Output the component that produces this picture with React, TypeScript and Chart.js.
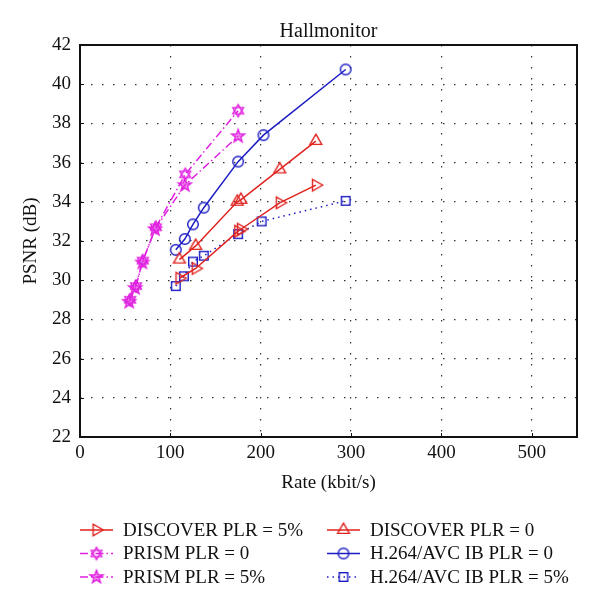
import React, { useEffect, useRef } from 'react';
import { Chart, registerables } from 'chart.js';

Chart.register(...registerables);

const FONT = "'Liberation Serif', 'DejaVu Serif', serif";

const chartTitle = 'Hallmonitor';
const xTitle = 'Rate (kbit/s)';
const yTitle = 'PSNR (dB)';

const xMin = 0;
const xMax = 550;
const xStep = 100;
const yMin = 22;
const yMax = 42;
const yStep = 2;

const discover5Label = 'DISCOVER PLR = 5%';
const discover5X = [110, 128, 175, 178, 221, 261];
const discover5Y = [30.1, 30.6, 32.5, 32.6, 33.95, 34.85];

const discover0Label = 'DISCOVER PLR = 0';
const discover0X = [110, 128, 174, 178, 221, 261];
const discover0Y = [31.05, 31.75, 34.0, 34.1, 35.65, 37.1];

const prism0Label = 'PRISM PLR = 0';
const prism0X = [55.5, 62, 69.5, 84, 116.5, 175];
const prism0Y = [29.0, 29.7, 31.0, 32.7, 35.4, 38.65];

const prism5Label = 'PRISM PLR = 5%';
const prism5X = [54.5, 61, 69, 83, 116, 175];
const prism5Y = [28.9, 29.6, 30.9, 32.6, 34.85, 37.35];

const h264p0Label = 'H.264/AVC IB PLR = 0';
const h264p0X = [106, 116, 125, 137, 175, 203, 294];
const h264p0Y = [31.55, 32.1, 32.85, 33.7, 36.05, 37.4, 40.75];

const h264p5Label = 'H.264/AVC IB PLR = 5%';
const h264p5X = [106, 115, 125, 137, 175, 201, 294];
const h264p5Y = [29.7, 30.2, 30.95, 31.25, 32.35, 33.0, 34.05];

const RED = '#e0221e';
const BLUE = '#1c1cc4';
const MAGENTA = '#e022e0';

function makeMarker(kind: string, color: string): HTMLCanvasElement {
  const s = 18;
  const c = document.createElement('canvas');
  c.width = s;
  c.height = s;
  const ctx = c.getContext('2d') as CanvasRenderingContext2D;
  ctx.strokeStyle = color;
  ctx.fillStyle = color;
  ctx.lineWidth = 1.4;
  const cx = s / 2;
  const cy = s / 2;
  const poly = (r: number, n: number, start: number) => {
    ctx.beginPath();
    for (let i = 0; i < n; i++) {
      const a = start + (i * 2 * Math.PI) / n;
      const px = cx + r * Math.cos(a);
      const py = cy + r * Math.sin(a);
      if (i === 0) ctx.moveTo(px, py);
      else ctx.lineTo(px, py);
    }
    ctx.closePath();
    ctx.stroke();
  };
  if (kind === 'circle') {
    ctx.beginPath();
    ctx.arc(cx, cy, 5.3, 0, Math.PI * 2);
    ctx.stroke();
  } else if (kind === 'triUp') {
    poly(6.8, 3, -Math.PI / 2);
  } else if (kind === 'triRight') {
    poly(6.8, 3, 0);
  } else if (kind === 'square') {
    ctx.strokeRect(cx - 4.3, cy - 4.3, 8.6, 8.6);
  } else if (kind === 'hexagram') {
    poly(6.2, 3, -Math.PI / 2);
    poly(6.2, 3, Math.PI / 2);
  } else if (kind === 'pentagram') {
    ctx.beginPath();
    for (let i = 0; i < 10; i++) {
      const r = i % 2 === 0 ? 6.8 : 2.8;
      const a = -Math.PI / 2 + (i * Math.PI) / 5;
      const px = cx + r * Math.cos(a);
      const py = cy + r * Math.sin(a);
      if (i === 0) ctx.moveTo(px, py);
      else ctx.lineTo(px, py);
    }
    ctx.closePath();
    ctx.globalAlpha = 0.55;
    ctx.fill();
    ctx.globalAlpha = 1;
    ctx.stroke();
  }
  return c;
}

function toPoints(xs: number[], ys: number[]) {
  return xs.map((x, i) => ({ x, y: ys[i] }));
}

export default function App() {
  const ref = useRef<HTMLCanvasElement | null>(null);

  useEffect(() => {
    const canvas = ref.current;
    if (!canvas) return;

    const mk = {
      d5: makeMarker('triRight', RED),
      d0: makeMarker('triUp', RED),
      p0: makeMarker('hexagram', MAGENTA),
      p5: makeMarker('pentagram', MAGENTA),
      h0: makeMarker('circle', BLUE),
      h5: makeMarker('square', BLUE),
    };

    const series = [
      { label: discover5Label, xs: discover5X, ys: discover5Y, color: RED, dash: [] as number[], marker: mk.d5 },
      { label: discover0Label, xs: discover0X, ys: discover0Y, color: RED, dash: [] as number[], marker: mk.d0 },
      { label: prism0Label, xs: prism0X, ys: prism0Y, color: MAGENTA, dash: [8, 3, 1.5, 3], marker: mk.p0 },
      { label: prism5Label, xs: prism5X, ys: prism5Y, color: MAGENTA, dash: [8, 3, 1.5, 3], marker: mk.p5 },
      { label: h264p0Label, xs: h264p0X, ys: h264p0Y, color: BLUE, dash: [] as number[], marker: mk.h0 },
      { label: h264p5Label, xs: h264p5X, ys: h264p5Y, color: BLUE, dash: [1.5, 4], marker: mk.h5 },
    ];

    const legendPos = [
      { col: 0, row: 0 },
      { col: 1, row: 0 },
      { col: 0, row: 1 },
      { col: 0, row: 2 },
      { col: 1, row: 1 },
      { col: 1, row: 2 },
    ];

    const overlay = {
      id: 'overlay',
      afterDraw(chart: any) {
        const ctx = chart.ctx as CanvasRenderingContext2D;
        const a = chart.chartArea;
        const xs = chart.scales.x;
        const ys = chart.scales.y;
        ctx.save();
        // ticks (inward, left and bottom)
        ctx.strokeStyle = '#111';
        ctx.lineWidth = 1;
        ctx.setLineDash([]);
        for (let v = xMin; v <= xMax; v += xStep) {
          const px = Math.round(xs.getPixelForValue(v)) + 0.5;
          ctx.beginPath();
          ctx.moveTo(px, a.bottom);
          ctx.lineTo(px, a.bottom - 4);
          ctx.stroke();
        }
        for (let v = yMin; v <= yMax; v += yStep) {
          const py = Math.round(ys.getPixelForValue(v)) + 0.5;
          ctx.beginPath();
          ctx.moveTo(a.left, py);
          ctx.lineTo(a.left + 4, py);
          ctx.stroke();
        }
        // box
        ctx.lineWidth = 2;
        ctx.strokeStyle = '#111';
        ctx.strokeRect(a.left, a.top, a.right - a.left, a.bottom - a.top);

        // titles
        ctx.fillStyle = '#111';
        ctx.textAlign = 'center';
        ctx.textBaseline = 'middle';
        const cx = (a.left + a.right) / 2;
        ctx.font = `20px ${FONT}`;
        ctx.fillText(chartTitle, cx, 32);
        ctx.font = `19px ${FONT}`;
        ctx.fillText(xTitle, cx, 483);
        ctx.save();
        ctx.translate(31, (a.top + a.bottom) / 2);
        ctx.rotate(-Math.PI / 2);
        ctx.fillText(yTitle, 0, 0);
        ctx.restore();

        // legend
        const colX = [80, 327];
        const rowY = [530, 553.5, 577];
        series.forEach((s, i) => {
          const p = legendPos[i];
          const x0 = colX[p.col];
          const y = rowY[p.row];
          ctx.strokeStyle = s.color;
          ctx.lineWidth = 1.5;
          ctx.setLineDash(s.dash);
          ctx.beginPath();
          ctx.moveTo(x0, y);
          ctx.lineTo(x0 + 33, y);
          ctx.stroke();
          ctx.setLineDash([]);
          ctx.drawImage(s.marker, x0 + 16.5 - s.marker.width / 2, y - s.marker.height / 2);
          ctx.fillStyle = '#111';
          ctx.textAlign = 'left';
          ctx.textBaseline = 'middle';
          ctx.font = `19px ${FONT}`;
          ctx.fillText(s.label, x0 + 43, y + 1);
        });
        ctx.restore();
      },
    };

    const chart = new Chart(canvas, {
      type: 'line',
      data: {
        datasets: series.map((s) => ({
          label: s.label,
          data: toPoints(s.xs, s.ys),
          borderColor: s.color,
          backgroundColor: s.color,
          borderWidth: 1.5,
          borderDash: s.dash,
          pointStyle: s.marker as any,
          pointRadius: 6,
          tension: 0,
          fill: false,
        })),
      },
      options: {
        responsive: false,
        animation: false,
        events: [],
        layout: { padding: { top: 45, left: 0, right: 23, bottom: 131 } },
        plugins: {
          legend: { display: false },
          title: { display: false },
          tooltip: { enabled: false },
        },
        scales: {
          x: {
            type: 'linear',
            min: xMin,
            max: xMax,
            afterFit: (scale: any) => {
              scale.height = 40;
            },
            afterBuildTicks: (scale: any) => {
              const t = [];
              for (let v = xMin; v <= 500; v += xStep) t.push({ value: v });
              scale.ticks = t;
            },
            ticks: {
              color: '#111',
              font: { family: FONT, size: 19 },
              padding: 5,
              maxRotation: 0,
            },
            grid: { color: '#333', lineWidth: 1.2, drawTicks: false },
            border: { display: false, dash: [1.5, 9.5] },
          },
          y: {
            type: 'linear',
            min: yMin,
            max: yMax,
            afterFit: (scale: any) => {
              scale.width = 80;
            },
            ticks: {
              stepSize: yStep,
              color: '#111',
              font: { family: FONT, size: 19 },
              padding: 9,
            },
            grid: { color: '#333', lineWidth: 1.2, drawTicks: false },
            border: { display: false, dash: [1.5, 9.5] },
          },
        },
      },
      plugins: [overlay],
    } as any);

    return () => chart.destroy();
  }, []);

  return (
    <div style={{ position: 'fixed', left: 0, top: 0, width: 600, height: 608, background: '#fff' }}>
      <canvas ref={ref} width={600} height={608} style={{ display: 'block' }} />
    </div>
  );
}
